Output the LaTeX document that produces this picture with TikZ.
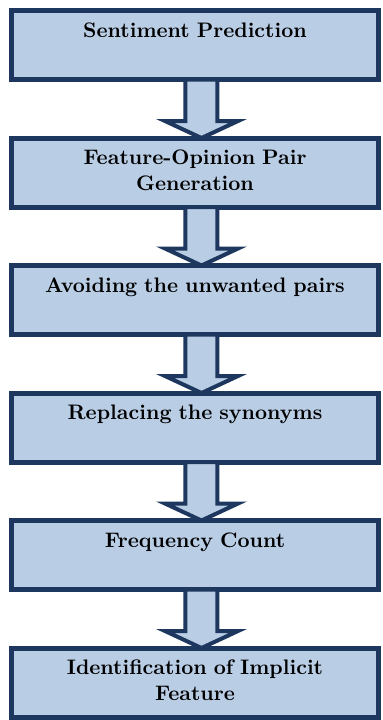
\documentclass[tikz,border=0pt]{standalone}
\usetikzlibrary{calc}
\definecolor{boxfill}{RGB}{185,205,229}
\definecolor{boxline}{RGB}{29,55,94}
\tikzset{
  stage/.style={draw=boxline, fill=boxfill, line width=2.5pt, outer sep=0pt,
    minimum width=183.5pt, minimum height=34.5pt, inner sep=3pt,
    text width=177.5pt, align=center,
    text height=10.25pt, text depth=18.25pt,
    font=\fontsize{10.5}{13}\selectfont\bfseries},
  flow/.style={draw=boxline, fill=boxfill, line width=2pt, line join=miter}
}
\begin{document}
\begin{tikzpicture}
      \useasboundingbox (0,0) rectangle (191pt,-360pt);
      \draw
        (97.5pt,-22.5pt) node[stage] (0){Sentiment Prediction}
        (97.5pt,-86.25pt) node[stage] (1){Feature-Opinion Pair\\Generation}
        (97.5pt,-150pt) node[stage] (2){Avoiding the unwanted pairs}
        (97.5pt,-213.75pt) node[stage] (3){Replacing the synonyms}
        (97.5pt,-277.5pt) node[stage] (4){Frequency Count}
        (97.5pt,-341.25pt) node[stage] (5){Identification of Implicit\\Feature};
      \begin{scope}
        \foreach \a/\b in {0/1,1/2,2/3,3/4,4/5}
          \draw[flow] ($(\a.south)+(-4.75pt,0)$) -- ($(\b.north)+(-4.75pt,8.5pt)$)
            -- ($(\b.north)+(-15pt,8.5pt)$) -- ($(\b.north)+(3.25pt,0)$)
            -- ($(\b.north)+(21.5pt,8.5pt)$) -- ($(\b.north)+(11.25pt,8.5pt)$)
            -- ($(\a.south)+(11.25pt,0)$) -- cycle;
      \end{scope}
    \end{tikzpicture}
\end{document}
